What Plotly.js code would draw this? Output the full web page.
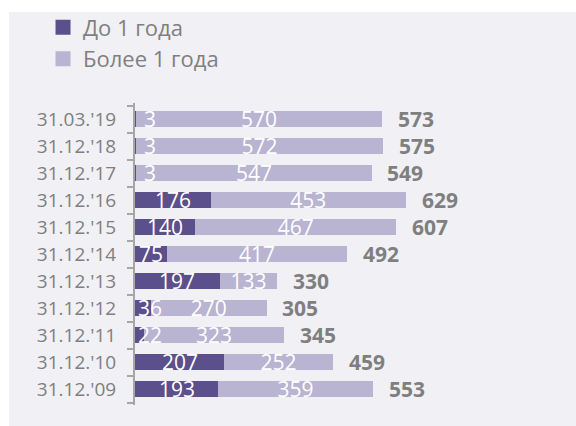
<!DOCTYPE html>
<html>
<head>
<meta charset="utf-8">
<script src="https://cdn.plot.ly/plotly-3.0.1.min.js"></script>
<style>
  html, body { margin: 0; padding: 0; background: #ffffff; }
  #wrap { position: relative; width: 576px; height: 426px; overflow: hidden; }
  #panel { position: absolute; left: 9px; top: 12px; right: 0; bottom: 0; background: #f1f0f5; }
  #chart { position: absolute; left: 0; top: 0; width: 576px; height: 426px; }
</style>
</head>
<body>
<div id="wrap"><div id="panel"></div><div id="chart"></div></div>
<script>
// Data (bottom to top)
const categories = ["31.12.'09", "31.12.'10", "31.12.'11", "31.12.'12", "31.12.'13", "31.12.'14", "31.12.'15", "31.12.'16", "31.12.'17", "31.12.'18", "31.03.'19"];
const upTo1Year = [193, 207, 22, 36, 197, 75, 140, 176, 3, 3, 3];
const over1Year = [359, 252, 323, 270, 133, 417, 467, 453, 547, 572, 570];
const totals = [553, 459, 345, 305, 330, 492, 607, 629, 549, 575, 573];
const seriesNames = ["До 1 года", "Более 1 года"];

const darkColor = '#5b508b';
const lightColor = '#b9b4d1';
const greyText = '#7f7f7f';
const FONT = 'Open Sans, sans-serif';

// label of the short series is kept clear of the axis (as the spreadsheet does)
const minLabelCenter = 34;

const traces = [
  { type: 'bar', orientation: 'h', name: seriesNames[0], y: categories, x: upTo1Year,
    marker: { color: darkColor }, showlegend: false, hoverinfo: 'skip' },
  { type: 'bar', orientation: 'h', name: seriesNames[1], y: categories, x: over1Year,
    marker: { color: lightColor }, showlegend: false, hoverinfo: 'skip',
    text: over1Year.map(String), textposition: 'inside', insidetextanchor: 'middle',
    constraintext: 'none', textangle: 0, cliponaxis: false,
    insidetextfont: { family: FONT, size: 21, color: '#ffffff' } },
  { type: 'scatter', mode: 'markers', name: seriesNames[0], x: [null], y: [null], legendgroup: 'a',
    marker: { symbol: 'square', size: 15, color: darkColor }, hoverinfo: 'skip' },
  { type: 'scatter', mode: 'markers', name: seriesNames[1], x: [null], y: [null], legendgroup: 'b',
    marker: { symbol: 'square', size: 15, color: lightColor }, hoverinfo: 'skip' }
];

const darkLabels = categories.map((c, i) => ({
  x: Math.max(upTo1Year[i] / 2, minLabelCenter), y: c, xref: 'x', yref: 'y',
  text: String(upTo1Year[i]), showarrow: false, xanchor: 'center', yanchor: 'middle',
  font: { family: FONT, size: 21, color: '#ffffff' }
}));

const totalLabels = categories.map((c, i) => ({
  x: totals[i], y: c, xref: 'x', yref: 'y', text: '<b>' + totals[i] + '</b>',
  showarrow: false, xanchor: 'left', yanchor: 'middle', xshift: 14, yshift: 0,
  font: { family: FONT, size: 21, color: greyText }
}));

const layout = {
  width: 576, height: 426,
  margin: { l: 135, r: 40, t: 103, b: 21, pad: 0, autoexpand: false },
  paper_bgcolor: 'rgba(0,0,0,0)', plot_bgcolor: 'rgba(0,0,0,0)',
  barmode: 'stack', bargap: 0.38,
  font: { family: FONT, color: greyText },
  xaxis: { range: [0, 931], visible: false, fixedrange: true },
  yaxis: {
    type: 'category', categoryorder: 'array', categoryarray: categories,
    showline: true, linecolor: '#a6a6a6', linewidth: 2,
    ticks: 'outside', tickson: 'boundaries', ticklen: 6, tickwidth: 2, tickcolor: '#a6a6a6',
    ticklabelstandoff: 13,
    showgrid: false, zeroline: false, fixedrange: true,
    tickfont: { family: FONT, size: 19, color: greyText }
  },
  showlegend: true,
  legend: {
    xref: 'container', yref: 'container',
    x: 0.0747, xanchor: 'left', y: 0.985, yanchor: 'top',
    bgcolor: 'rgba(0,0,0,0)', tracegroupgap: 5, traceorder: 'normal',
    font: { family: FONT, size: 22, color: greyText }
  },
  annotations: darkLabels.concat(totalLabels),
  hovermode: false
};

Plotly.newPlot('chart', traces, layout, { staticPlot: true, displayModeBar: false });
</script>
</body>
</html>
